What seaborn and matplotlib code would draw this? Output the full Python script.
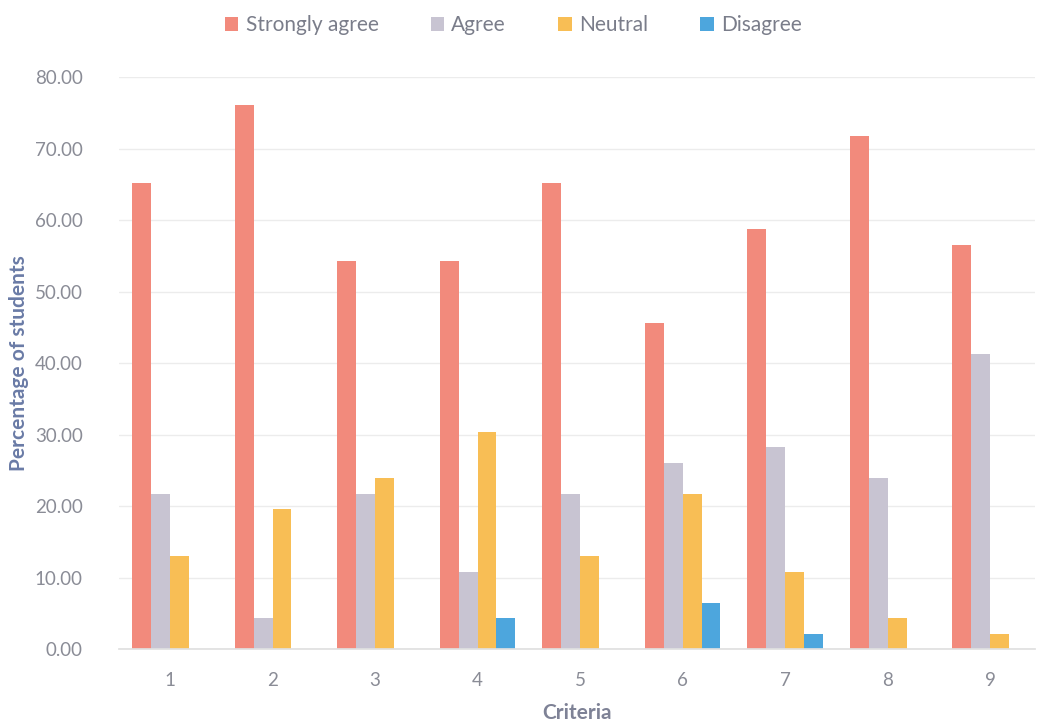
import matplotlib
matplotlib.use('Agg')
import matplotlib.pyplot as plt
import pandas as pd
import seaborn as sns
from matplotlib.patches import Patch
from matplotlib.ticker import FormatStrFormatter

# Values (percent of students)
criteria = ['1', '2', '3', '4', '5', '6', '7', '8', '9']
responses = ['Strongly agree', 'Agree', 'Neutral', 'Disagree']
strongly_agree = [65.22, 76.09, 54.35, 54.35, 65.22, 45.65, 58.70, 71.74, 56.52]
agree = [21.74, 4.35, 21.74, 10.87, 21.74, 26.09, 28.26, 23.91, 41.30]
neutral = [13.04, 19.57, 23.91, 30.43, 13.04, 21.74, 10.87, 4.35, 2.17]
disagree = [0.0, 0.0, 0.0, 4.35, 0.0, 6.52, 2.17, 0.0, 0.0]
colors = ['#F28A7C', '#C8C4D2', '#F8BE55', '#4DA6DD']

# Long format for seaborn
rows = []
for resp, vals in zip(responses, [strongly_agree, agree, neutral, disagree]):
    for c, v in zip(criteria, vals):
        rows.append({'Criteria': c, 'Response': resp, 'value': v})
df = pd.DataFrame(rows)

sns.set_theme(style='white')
plt.rcParams['font.family'] = ['Lato', 'DejaVu Sans']

fig = plt.figure(figsize=(10.39, 7.26), dpi=100)
ax = fig.add_axes([0.1143, 0.1054, 0.882, 0.7886])

sns.barplot(data=df, x='Criteria', y='value', hue='Response', order=criteria,
            hue_order=responses, palette=colors, width=0.74, errorbar=None,
            saturation=1, legend=False, linewidth=0, ax=ax)

ax.set_ylim(0, 80)
ax.set_xlim(-0.5, 8.44)
ax.set_yticks(range(0, 81, 10))
ax.yaxis.set_major_formatter(FormatStrFormatter('%.2f'))
ax.grid(axis='y', color='#ECECEC', linewidth=1)
ax.set_axisbelow(True)
for s in ['top', 'right', 'left']:
    ax.spines[s].set_visible(False)
ax.spines['bottom'].set_color('#E0E0E0')
ax.tick_params(axis='both', length=0, labelsize=13.5, labelcolor='#8A8C96')
ax.tick_params(axis='y', pad=26)
ax.tick_params(axis='x', pad=16)

ax.set_xlabel('Criteria', fontsize=15, fontweight='bold', color='#7E8296', labelpad=10)
ax.set_ylabel('Percentage of students', fontsize=15, fontweight='bold', color='#6A7BA6')
ax.yaxis.set_label_coords(-0.098, 0.5)

handles = [Patch(facecolor=c, edgecolor='none') for c in colors]
fig.legend(handles, responses, loc='upper center', bbox_to_anchor=(0.494, 1.005),
           ncol=4, frameon=False, fontsize=15, handlelength=0.65, handleheight=0.65,
           handletextpad=0.35, columnspacing=2.5, labelcolor='#7A7D8A')

fig.savefig('out.png', dpi=100)
